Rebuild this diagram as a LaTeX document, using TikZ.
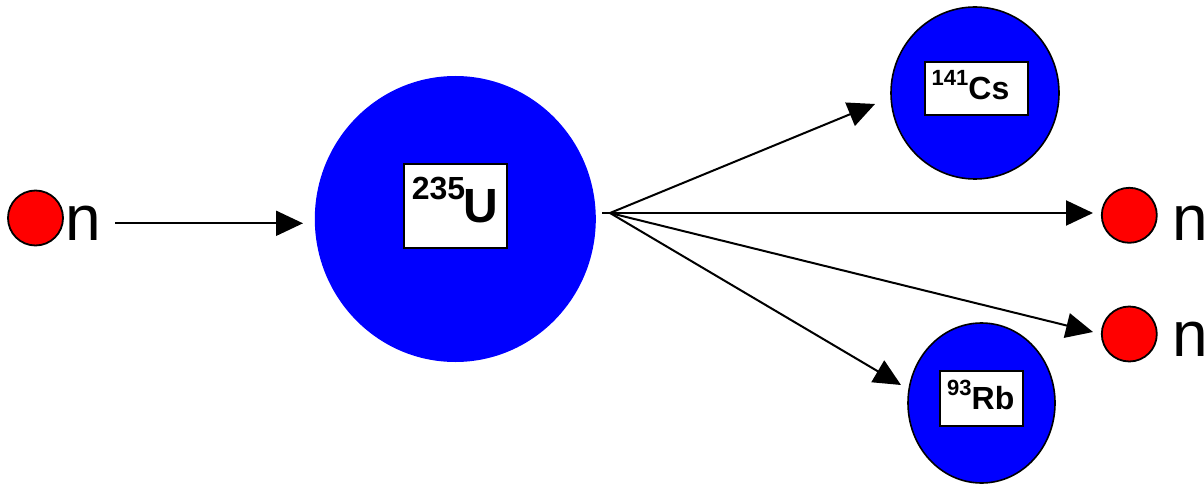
\documentclass[tikz,border=0pt]{standalone}
\usepackage{fontspec}
\setmainfont{Liberation Sans}
\usetikzlibrary{shapes.geometric,arrows.meta}

\definecolor{nucblue}{RGB}{0,0,255}
\definecolor{neured}{RGB}{255,0,0}

% isotope label: mass number raised before the element symbol
\newcommand\nuclide[5]{\bfseries{\fontsize{#1}{#1}\selectfont\raisebox{#3}{#2}}{\fontsize{#4}{#4}\selectfont #5}}

\tikzset{
  neutron/.style={circle, draw=black, line width=1.8pt, fill=neured,
    minimum size=#1, inner sep=0pt, outer sep=0pt},
  nucleus/.style={ellipse, fill=nucblue, inner sep=0pt, outer sep=0pt},
  nucleusline/.style={nucleus, draw=black, line width=1.6pt},
  labelbox/.style={rectangle, draw=black, line width=1.8pt, fill=white,
    inner sep=0pt, outer sep=0pt},
  ntext/.style={anchor=base west, inner sep=0pt, font=\fontsize{64}{64}\selectfont},
  isotext/.style={anchor=base west, inner sep=0pt},
  ray/.style={line width=2pt, -{Triangle[length=27pt,width=25pt]}}
}

\begin{document}
\begin{tikzpicture}[x=1pt,y=-1pt]
\useasboundingbox (0,0) rectangle (1204,484);

% incoming neutron
\node[neutron=55pt] (nin) at (35.5,218) {};
\node[ntext] (ninlabel) at (65,240) {n};

% uranium nucleus
\node[nucleus, minimum width=281pt, minimum height=286pt] (u) at (455.3,219) {};
\node[labelbox, minimum width=102.7pt, minimum height=84.6pt] (ubox) at (455.7,206) {};
\node[isotext] (ulabel) at (411.7,222.3) {\nuclide{32}{235}{23.3pt}{48}{\kern-2pt U}};

% fission fragments
\node[nucleusline, minimum width=168pt, minimum height=172pt] (cs) at (975,93) {};
\node[labelbox, minimum width=102.7pt, minimum height=53.3pt] (csbox) at (976.4,88.7) {};
\node[isotext] (cslabel) at (931.5,99.3) {\nuclide{22}{141}{13.3pt}{32}{Cs}};

\node[nucleusline, minimum width=147pt, minimum height=160pt] (rb) at (981.5,403) {};
\node[labelbox, minimum width=82.7pt, minimum height=55pt] (rbbox) at (981.4,398.5) {};
\node[isotext] (rblabel) at (947,409) {\nuclide{22}{93}{13.5pt}{32}{Rb}};

% released neutrons
\node[neutron=55pt] (nout1) at (1129.3,215.3) {};
\node[ntext] (nout1label) at (1172,240.7) {n};
\node[neutron=55pt] (nout2) at (1129.3,334) {};
\node[ntext] (nout2label) at (1172,356.7) {n};

% arrow end points
\coordinate (intail) at (115,223.3);
\coordinate (inhead) at (303,223.3);
\coordinate (stub) at (602,213);
\coordinate (split) at (610,213);
\coordinate (tocs) at (875,104);
\coordinate (ton1) at (1093,213);
\coordinate (ton2) at (1093,332);
\coordinate (torb) at (901,385);

% incoming path
\draw[ray] (intail) -- (inhead);

% fission products
\draw[ray] (split) -- (tocs);
\draw[ray] (stub) -- (ton1);
\draw[ray] (split) -- (ton2);
\draw[ray] (split) -- (torb);
\end{tikzpicture}
\end{document}
